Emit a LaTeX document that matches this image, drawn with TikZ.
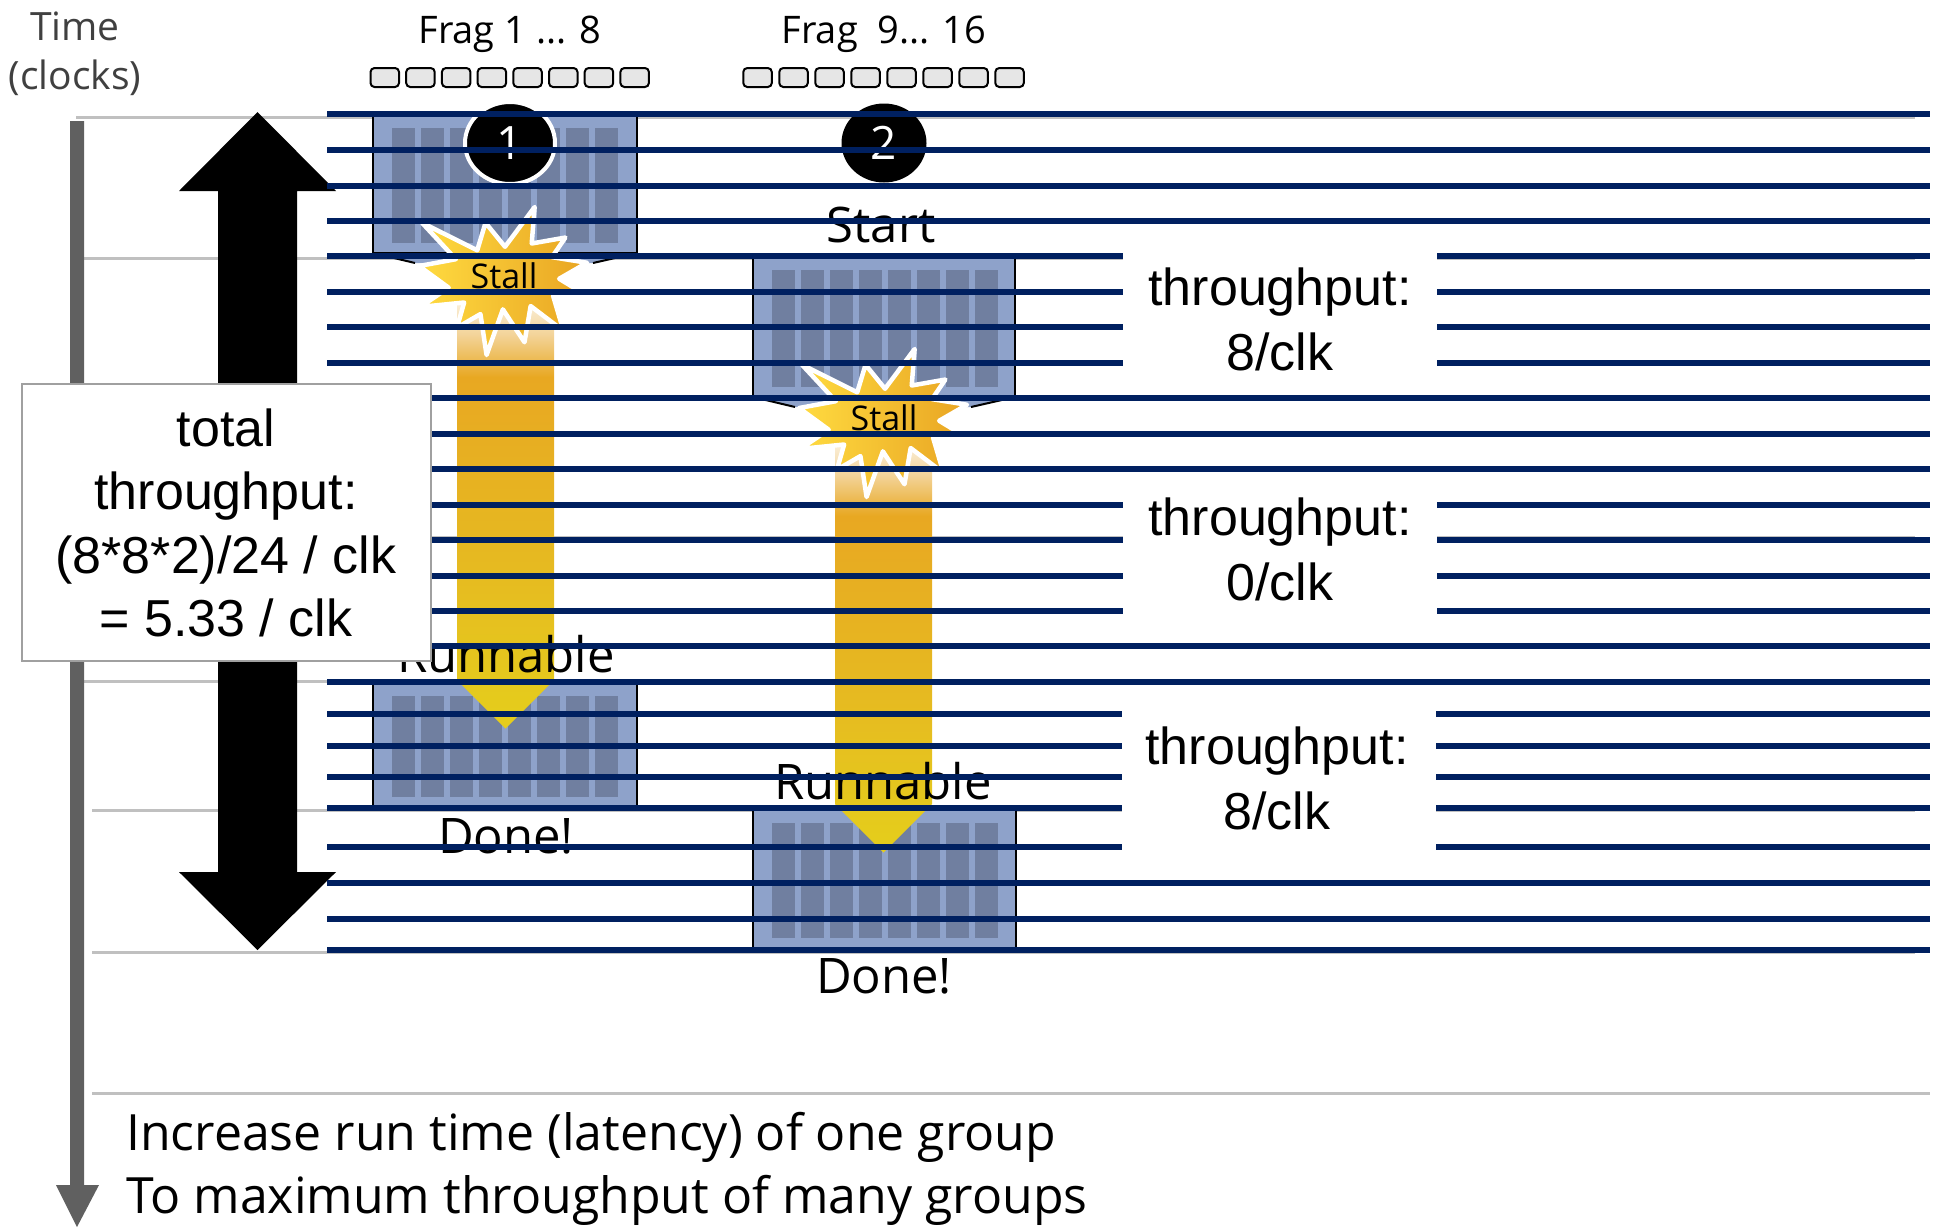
\documentclass[tikz,border=0pt]{standalone}
\usepackage{fontspec}
\setmainfont{Open Sans}
\newfontfamily\arialfont{Liberation Sans}
\usetikzlibrary{shapes.geometric}

\definecolor{navy}{HTML}{002060}
\definecolor{gridgray}{HTML}{C0C0C0}
\definecolor{axisgray}{HTML}{606060}
\definecolor{boxblue}{HTML}{8EA2CA}
\definecolor{colblue}{HTML}{707FA0}
\definecolor{fragfill}{HTML}{E6E6E6}
\definecolor{goldtop}{HTML}{FBF1DE}
\definecolor{goldlight}{HTML}{F3D49A}
\definecolor{goldorange}{HTML}{E8A822}
\definecolor{goldmid}{HTML}{E6B921}
\definecolor{goldyellow}{HTML}{E5CC1C}
\definecolor{starleft}{HTML}{FFDB40}
\definecolor{starright}{HTML}{E8A322}
\definecolor{framegray}{HTML}{A0A0A0}
\definecolor{timegray}{HTML}{404040}

% vertical fade of the stall arrows: light at the top, orange, then yellow
\pgfdeclareverticalshading{goldfade}{100bp}{color(0bp)=(goldyellow); color(27bp)=(goldyellow); color(45bp)=(goldmid); color(66bp)=(goldorange); color(71bp)=(goldlight); color(75bp)=(goldtop); color(100bp)=(goldtop)}

% explosion outline in a 216 x 216 box
\newcommand\explosionpath{(108,58) -- (145.22,0) -- (141.55,53.25) -- (183.8,44.57) -- (167.02,73.15) -- (210.97,81.37) -- (176.07,104.75) -- (216,132.9) -- (168.37,129.42) -- (181.45,180.95) -- (140.2,144.57) -- (132.47,197.37) -- (105.32,149.35) -- (84.85,216) -- (77.15,156.27) -- (47.62,176.17) -- (56.67,139.37) -- (1.35,145.87) -- (37.22,117.75) -- (0,86.15) -- (46.27,76.17) -- (3.7,22.95) -- (73.12,63.2) -- (83.52,22.95) -- cycle}

% a group of eight fragments: x0 y0 x1 y1
\newcommand\warpbox[4]{%
  \fill[boxblue] (#1,#2) rectangle (#3,#4);
  \foreach \k in {0,...,7}
    \fill[colblue] ({#1+19+29*\k},{#2+13}) rectangle ({#1+41.5+29*\k},{#4-10});
  \draw[boxedge] (#1,#2) rectangle (#3,#4);
}
% flared lower edge under a stalled group: x0 x1 ybottom
\newcommand\warpbulge[3]{%
  \fill[boxblue] (#1,#3) -- ({#1+42},{#3+10}) -- ({#2-44},{#3+10}) -- (#2,#3) -- cycle;
  \draw[boxedge] (#1,#3) -- ({#1+42},{#3+10}) ({#2-44},{#3+10}) -- (#2,#3);
}

\begin{document}
\begin{tikzpicture}[x=1pt,y=-1pt,
  navyline/.style={draw=navy,line width=5.5pt},
  gridline/.style={draw=gridgray,line width=3pt},
  boxedge/.style={draw=black,line width=2pt},
  fragsq/.style={draw=black,fill=fragfill,line width=2pt,rounded corners=4pt},
  starshape/.style={draw=white,line width=4.5pt,line join=round,left color=starleft,right color=starright},
  seglabel/.style={anchor=base,inner sep=0pt,font=\fontsize{49}{56}\selectfont},
  stalllabel/.style={anchor=base,inner sep=0pt,font=\fontsize{34}{40}\selectfont},
  arlabel/.style={anchor=base,inner sep=0pt,font=\arialfont\fontsize{52}{62}\selectfont},
  numcircle/.style={ellipse,fill=black,inner sep=0pt,text=white,font=\fontsize{46}{46}\selectfont},
  gapbox/.style={fill=white,inner sep=0pt,minimum width=314pt},
]
\useasboundingbox (0,0) rectangle (1937,1227);

% clock grid
\draw[gridline] (76,117) -- (1915,117);
\foreach \y in {258,399,537,681}
  \draw[gridline] (84,\y) -- (1915,\y);
\foreach \y in {810,952}
  \draw[gridline] (92,\y) -- (1915,\y);
\draw[gridline] (92,1093) -- (1930,1093);

% time axis
\fill[axisgray] (70,121) -- (84,121) -- (84,1185) -- (99,1185) -- (77,1227) -- (56,1185) -- (70,1185) -- cycle;

% double-headed span arrow
\fill[black] (257.5,112) -- (336,191) -- (297,191) -- (297,872) -- (336,872) -- (257.5,950) -- (179,872) -- (218,872) -- (218,191) -- (179,191) -- cycle;

% fragment groups
\warpbox{373}{115}{637}{253}
\warpbulge{373}{637}{253}
\warpbox{753}{257}{1015}{397}
\warpbulge{753}{1015}{397}
\warpbox{373}{683}{637}{807}
\warpbox{753}{810}{1016}{948}

% stall arrows
\shade[shading=goldfade] (457,300) -- (554,300) -- (554,680) -- (505.5,728.5) -- (457,680) -- cycle;
\shade[shading=goldfade] (835,442) -- (932,442) -- (932,804) -- (883.5,852.5) -- (835,804) -- cycle;

% stall bursts
\begin{scope}[shift={(419,207)},xscale=0.7963,yscale=0.6852]
  \draw[starshape] \explosionpath;
\end{scope}
\begin{scope}[shift={(799,349)},xscale=0.7963,yscale=0.6852]
  \draw[starshape] \explosionpath;
\end{scope}

% group numbers
\node[numcircle,draw=white,line width=4pt,minimum width=90pt,minimum height=82pt] (n1) at (510,143) {1};
\node[numcircle,minimum width=85pt,minimum height=79pt] (n2) at (884,143) {2};

% state labels
\node[stalllabel] (stall1) at (504,288) {Stall};
\node[stalllabel] (stall2) at (884,430) {Stall};
\node[seglabel] (start) at (881,242) {Start};
\node[seglabel] (run1) at (506,672) {Runnable};
\node[seglabel] (run2) at (883,799) {Runnable};
\node[seglabel] (done1) at (506,853) {Done!};
\node[seglabel] (done2) at (884,993) {Done!};

% clock lines
\foreach \y in {114,150,186,221,256,292,327,363,398,434,469,505,540,576,611,646,682,714,746,777,808,847,883,919,950}
  \draw[navyline] (327,\y) -- (1930,\y);

% total throughput box
\node[draw=framegray,line width=2.5pt,fill=white,minimum width=409pt,minimum height=277pt,inner sep=0pt] (totbox) at (226.5,522.5) {};
\node[arlabel] (tot1) at (226,446) {total};
\node[arlabel] (tot2) at (226,509.5) {throughput:};
\node[arlabel] (tot3) at (226,573) {(8*8*2)/24 / clk};
\node[arlabel] (tot4) at (226,636.5) {= 5.33 / clk};

% per-phase throughput
\node[gapbox,minimum height=142pt] (gap1) at (1280,309) {};
\node[arlabel] (tp1a) at (1280,305) {throughput:};
\node[arlabel] (tp1b) at (1280,370) {8/clk};
\node[gapbox,minimum height=141pt] (gap2) at (1280,557.5) {};
\node[arlabel] (tp2a) at (1280,535) {throughput:};
\node[arlabel] (tp2b) at (1280,600) {0/clk};
\node[gapbox,minimum height=167pt] (gap3) at (1278.5,781.5) {};
\node[arlabel] (tp3a) at (1277,764) {throughput:};
\node[arlabel] (tp3b) at (1277,829) {8/clk};

% fragment rows
\foreach \i in {0,...,7}
  \draw[fragsq] ({370.5+35.7*\i},68) rectangle ++(28.5,19);
\foreach \i in {0,...,7}
  \draw[fragsq] ({743.3+36*\i},68) rectangle ++(28.5,19);
\node[anchor=base,inner sep=0pt,font=\fontsize{38}{44}\selectfont] (frag1) at (510,43) {Frag 1 ... 8};
\node[anchor=base,inner sep=0pt,font=\fontsize{38}{44}\selectfont] (frag2) at (884,43) {Frag\ \ 9... 16};

% axis caption
\node[anchor=base,inner sep=0pt,text=timegray,font=\fontsize{39}{46}\selectfont] (time) at (75,40) {Time};
\node[anchor=base,inner sep=0pt,text=timegray,font=\fontsize{39}{46}\selectfont] (clocks) at (75,89) {(clocks)};

% summary
\node[anchor=base west,inner sep=0pt,font=\fontsize{50}{58}\selectfont] (sum1) at (126,1150) {Increase run time (latency) of one group};
\node[anchor=base west,inner sep=0pt,font=\fontsize{50}{58}\selectfont] (sum2) at (126,1213) {To maximum throughput of many groups};
\end{tikzpicture}
\end{document}
